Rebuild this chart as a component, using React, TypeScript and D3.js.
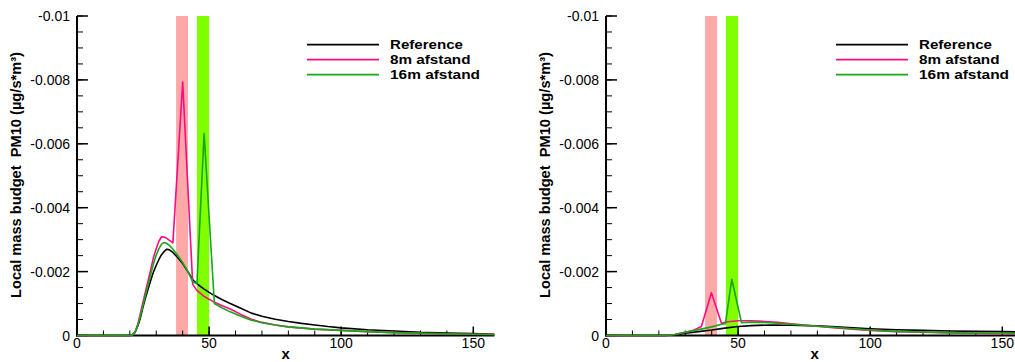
import React from "react";
import * as d3 from "d3";

// ---------- data ----------
const xTicksMajor = [0, 50, 100, 150];
const yTicksMajor = [0, -0.002, -0.004, -0.006, -0.008, -0.01];
const yTickLabels = ["0", "-0.002", "-0.004", "-0.006", "-0.008", "-0.01"];
const seriesNames = ["Reference", "8m afstand", "16m afstand"];
const seriesColors = ["#000000", "#ff0a80", "#16a816"];
const band8m = [37.5, 42.0];
const band16m = [45.4, 50.0];

// left panel
const leftRefX = [0, 20, 21, 22, 23, 24, 25, 26, 27, 28, 29, 30, 31, 32, 33, 34, 35, 36, 38, 40, 42, 44, 46, 48, 50, 52, 55, 58, 62, 66, 70, 75, 80, 85, 90, 95, 100, 110, 120, 130, 140, 150, 158];
const leftRefY = [0, 0, -0.00002, -0.0001, -0.0003, -0.00055, -0.0009, -0.0012, -0.00148, -0.00175, -0.002, -0.0022, -0.00238, -0.00253, -0.00263, -0.0027, -0.00268, -0.00262, -0.00245, -0.00225, -0.00199, -0.00173, -0.00158, -0.00146, -0.00135, -0.00125, -0.00112, -0.001, -0.00085, -0.0007, -0.0006, -0.00051, -0.00044, -0.00038, -0.00033, -0.00028, -0.00024, -0.00018, -0.00014, -0.0001, -0.00008, -0.00006, -0.00004];

const left8X = [0, 20, 21, 22, 23, 24, 25, 26, 27, 28, 29, 30, 31, 32, 33, 34, 35, 36.3, 40, 43.8, 45.3, 48, 51.6, 55, 58, 62, 66, 70, 75, 80, 90, 100, 110, 120, 130, 140, 150, 158];
const left8Y = [0, 0, -0.00003, -0.00012, -0.00035, -0.0007, -0.00105, -0.0014, -0.00175, -0.0021, -0.00246, -0.00272, -0.00295, -0.00309, -0.00308, -0.00304, -0.00298, -0.0029, -0.00793, -0.0016, -0.00142, -0.00123, -0.00106, -0.00093, -0.00083, -0.00066, -0.00051, -0.00041, -0.00033, -0.00027, -0.0002, -0.00016, -0.00012, -0.00009, -0.00007, -0.00005, -0.00004, -0.00003];

const left16X = [0, 20, 21, 22, 23, 24, 25, 26, 27, 28, 29, 30, 31, 32, 33, 34, 35, 36, 38, 40, 42, 43.8, 45.4, 48.1, 52, 55, 58, 62, 66, 70, 75, 80, 90, 100, 110, 120, 130, 140, 150, 158];
const left16Y = [0, 0, -0.00002, -0.0001, -0.00032, -0.0006, -0.00095, -0.0013, -0.0016, -0.00195, -0.00226, -0.00252, -0.00272, -0.00286, -0.00291, -0.00288, -0.00282, -0.00273, -0.00252, -0.00228, -0.002, -0.00168, -0.00162, -0.00632, -0.001, -0.00086, -0.00074, -0.0006, -0.00048, -0.0004, -0.00033, -0.00027, -0.0002, -0.00016, -0.00012, -0.00009, -0.00007, -0.00005, -0.00004, -0.00003];

// right panel
const rightRefX = [0, 22, 26, 30, 35, 40, 45, 50, 55, 62, 70, 80, 87, 100, 110, 120, 130, 140, 150, 158];
const rightRefY = [0, 0, -0.00002, -0.00007, -0.00012, -0.00017, -0.00023, -0.00028, -0.00031, -0.00033, -0.00032, -0.0003, -0.00027, -0.00021, -0.00018, -0.00016, -0.00014, -0.00013, -0.00012, -0.00011];

const right8X = [0, 22, 26, 30, 33, 36.1, 39.9, 43.7, 46, 50, 55, 60, 65, 70, 75, 80, 87, 100, 110, 120, 130, 140, 150, 158];
const right8Y = [0, 0, -0.00003, -0.0001, -0.00016, -0.00028, -0.00134, -0.00038, -0.00043, -0.00046, -0.00046, -0.00044, -0.00041, -0.00037, -0.00033, -0.00029, -0.00024, -0.00016, -0.00012, -0.0001, -0.00008, -0.00007, -0.00006, -0.00005];

const right16X = [0, 22, 26, 30, 33, 36, 40, 43.7, 45.2, 47.6, 51.3, 55, 62, 70, 80, 87, 100, 110, 120, 130, 140, 150, 158];
const right16Y = [0, 0, -0.00003, -0.0001, -0.00015, -0.0002, -0.00027, -0.00035, -0.00037, -0.00176, -0.0004, -0.00042, -0.0004, -0.00035, -0.00029, -0.00025, -0.00017, -0.00013, -0.00011, -0.00009, -0.00008, -0.00007, -0.00006];

const FONT = "'Liberation Sans', Arial, sans-serif";

type Series = { xs: number[]; ys: number[] };

function Panel({ x0, series }: { x0: number; series: Series[] }) {
  const x = d3.scaleLinear().domain([0, 158]).range([x0, x0 + 158 * 2.642]);
  const y = d3.scaleLinear().domain([0, -0.01]).range([335.5, 16]);
  const line = d3
    .line<[number, number]>()
    .x((d) => x(d[0]))
    .y((d) => y(d[1]))
    .curve(d3.curveLinear);

  const yMinor = d3.range(0, 21).map((i) => -i * 0.0005);
  const xMinor = d3.range(0, 16).map((i) => i * 10);
  const [xr0, xr1] = x.range();
  const top = y(-0.01);
  const bottom = y(0);

  return (
    <g>
      {/* bands */}
      <rect x={x(band8m[0])} y={top} width={x(band8m[1]) - x(band8m[0])} height={bottom - top} fill="#ffa8a8" />
      <rect x={x(band16m[0])} y={top} width={x(band16m[1]) - x(band16m[0])} height={bottom - top} fill="#80ff00" />

      {/* y ticks */}
      {yMinor.map((v, i) => (
        <line key={"ym" + i} x1={xr0} x2={xr0 + 6} y1={y(v)} y2={y(v)} stroke="#000" strokeWidth={1} />
      ))}
      {yTicksMajor.map((v, i) => (
        <line key={"yM" + i} x1={xr0} x2={xr0 + 11} y1={y(v)} y2={y(v)} stroke="#000" strokeWidth={1.5} />
      ))}
      {yTicksMajor.map((v, i) => (
        <text key={"yl" + i} x={xr0 - 7} y={y(v) + 5} textAnchor="end" fontFamily={FONT} fontSize={14} fill="#000">
          {yTickLabels[i]}
        </text>
      ))}

      {/* x ticks */}
      {xMinor.map((v, i) => (
        <line key={"xm" + i} x1={x(v)} x2={x(v)} y1={bottom} y2={bottom - 5} stroke="#000" strokeWidth={1} />
      ))}
      {xTicksMajor.map((v, i) => (
        <line key={"xM" + i} x1={x(v)} x2={x(v)} y1={bottom} y2={bottom - 9} stroke="#000" strokeWidth={1.5} />
      ))}
      {xTicksMajor.map((v, i) => (
        <text key={"xl" + i} x={x(v)} y={bottom + 12.5} textAnchor="middle" fontFamily={FONT} fontSize={14} fill="#000">
          {String(v)}
        </text>
      ))}

      {/* axes */}
      <line x1={xr0} x2={xr0} y1={top} y2={bottom + 1} stroke="#000" strokeWidth={2} />
      <line x1={xr0 - 1} x2={xr1} y1={bottom} y2={bottom} stroke="#000" strokeWidth={2} />

      {/* curves */}
      {series.map((s, i) => (
        <path
          key={"s" + i}
          d={line(s.xs.map((xv, j) => [xv, s.ys[j]] as [number, number])) || ""}
          fill="none"
          stroke={seriesColors[i]}
          strokeWidth={1.6}
          strokeLinejoin="round"
        />
      ))}

      {/* legend */}
      {seriesNames.map((n, i) => (
        <g key={"lg" + i}>
          <line x1={xr0 + 230} x2={xr0 + 302} y1={44.7 + i * 15} y2={44.7 + i * 15} stroke={seriesColors[i]} strokeWidth={1.7} />
          <text
            x={xr0 + 313}
            y={49.4 + i * 15}
            fontFamily={FONT}
            fontWeight="bold"
            fontSize={13}
            textLength={[73, 80.5, 90][i]}
            lengthAdjust="spacingAndGlyphs"
            fill="#000"
          >
            {n}
          </text>
        </g>
      ))}

      {/* axis titles */}
      <text
        transform={`translate(${xr0 - 56},175) rotate(-90)`}
        textAnchor="middle"
        fontFamily={FONT}
        fontWeight="bold"
        fontSize={15}
        textLength={246}
        lengthAdjust="spacingAndGlyphs"
        fill="#000"
        style={{ whiteSpace: "pre" }}
      >
        {"Local mass budget  PM10 (µg/s*m³)"}
      </text>
      <text x={(xr0 + xr1) / 2} y={358.5} textAnchor="middle" fontFamily={FONT} fontWeight="bold" fontSize={15} fill="#000">
        x
      </text>
    </g>
  );
}

export default function App() {
  return (
    <svg width={1015} height={362} style={{ position: "absolute", left: 0, top: 0, background: "#fff" }}>
      <rect x={0} y={0} width={1015} height={362} fill="#fff" />
      <Panel
        x0={77}
        series={[
          { xs: leftRefX, ys: leftRefY },
          { xs: left8X, ys: left8Y },
          { xs: left16X, ys: left16Y },
        ]}
      />
      <Panel
        x0={606}
        series={[
          { xs: rightRefX, ys: rightRefY },
          { xs: right8X, ys: right8Y },
          { xs: right16X, ys: right16Y },
        ]}
      />
    </svg>
  );
}
